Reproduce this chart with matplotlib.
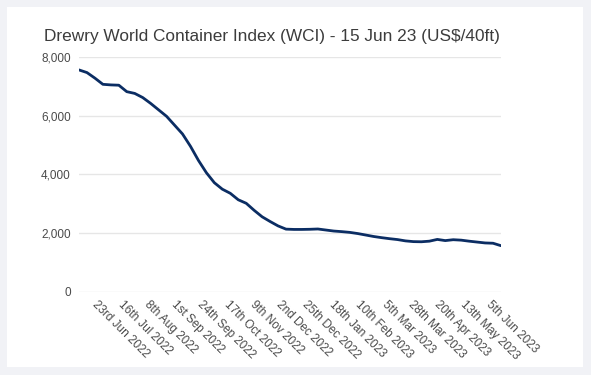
import matplotlib
matplotlib.use("Agg")
import matplotlib.pyplot as plt
import matplotlib.transforms as mtransforms
from matplotlib.patches import Rectangle
import pandas as pd

# -----------------------
# Data (weekly WCI composite, US$/40ft)
# -----------------------
start_date = "2022-06-09"
wci_values = [
    7560, 7470, 7280, 7070, 7050, 7040, 6820, 6760, 6620, 6420,
    6200, 5980, 5680, 5380, 4960, 4480, 4060, 3720, 3500, 3360,
    3140, 3020, 2780, 2560, 2400, 2250, 2140, 2130, 2130, 2135,
    2145, 2110, 2075, 2055, 2030, 1990, 1940, 1890, 1850, 1815,
    1785, 1740, 1715, 1710, 1730, 1790, 1750, 1780, 1765, 1730,
    1700, 1670, 1660, 1576,
]
tick_dates = [
    "2022-06-23", "2022-07-16", "2022-08-08", "2022-09-01", "2022-09-24",
    "2022-10-17", "2022-11-09", "2022-12-02", "2022-12-25", "2023-01-18",
    "2023-02-10", "2023-03-05", "2023-03-28", "2023-04-20", "2023-05-13",
    "2023-06-05",
]
tick_labels = [
    "23rd Jun 2022", "16th Jul 2022", "8th Aug 2022", "1st Sep 2022",
    "24th Sep 2022", "17th Oct 2022", "9th Nov 2022", "2nd Dec 2022",
    "25th Dec 2022", "18th Jan 2023", "10th Feb 2023", "5th Mar 2023",
    "28th Mar 2023", "20th Apr 2023", "13th May 2023", "5th Jun 2023",
]
y_ticks = [0, 2000, 4000, 6000, 8000]

dates = pd.date_range(start_date, periods=len(wci_values), freq="7D")

plt.rcParams['font.family'] = ['Liberation Sans', 'DejaVu Sans']

W, H = 591, 375
fig = plt.figure(figsize=(W / 100, H / 100), dpi=100)
fig.patch.set_facecolor("#f1f2f6")

# white card behind the chart
fig.patches.append(Rectangle((7 / W, 8 / H), 576 / W, 360 / H,
                             transform=fig.transFigure, facecolor="white",
                             edgecolor="none", zorder=-1))

ax = fig.add_axes([79 / W, 1 - 292 / H, 422 / W, 235 / H])
ax.set_zorder(1)
ax.set_facecolor("white")
ax.plot(dates, wci_values, color="#0b2d63", lw=2.0, solid_joinstyle="round",
        solid_capstyle="round", zorder=3)

ax.set_xlim(dates[0], dates[-1])
ax.set_ylim(0, 8000)
ax.set_yticks(y_ticks)
ax.set_yticklabels([f"{v:,}" for v in y_ticks])
ax.grid(axis="y", color="#e6e6e6", lw=1)
ax.set_axisbelow(True)
for s in ax.spines.values():
    s.set_visible(False)

ax.set_xticks(pd.to_datetime(tick_dates))
ax.set_xticklabels(tick_labels, rotation=-45, ha="left", va="top",
                   rotation_mode="anchor")
ax.tick_params(axis="both", length=0, labelsize=8.5, labelcolor="#4a4a4a")
ax.tick_params(axis="x", pad=5)
ax.tick_params(axis="y", pad=6)

# nudge the slanted labels a little to the right
shift = mtransforms.ScaledTranslation(3 / 100, 0, fig.dpi_scale_trans)
for lbl in ax.get_xticklabels():
    lbl.set_transform(lbl.get_transform() + shift)

fig.text(44 / W, 1 - 36 / H, "Drewry World Container Index (WCI) - 15 Jun 23 (US$/40ft)",
         fontsize=12.4, color="#3c3c3c", va="center", ha="left")

fig.savefig("out.png", dpi=100, facecolor=fig.get_facecolor())
